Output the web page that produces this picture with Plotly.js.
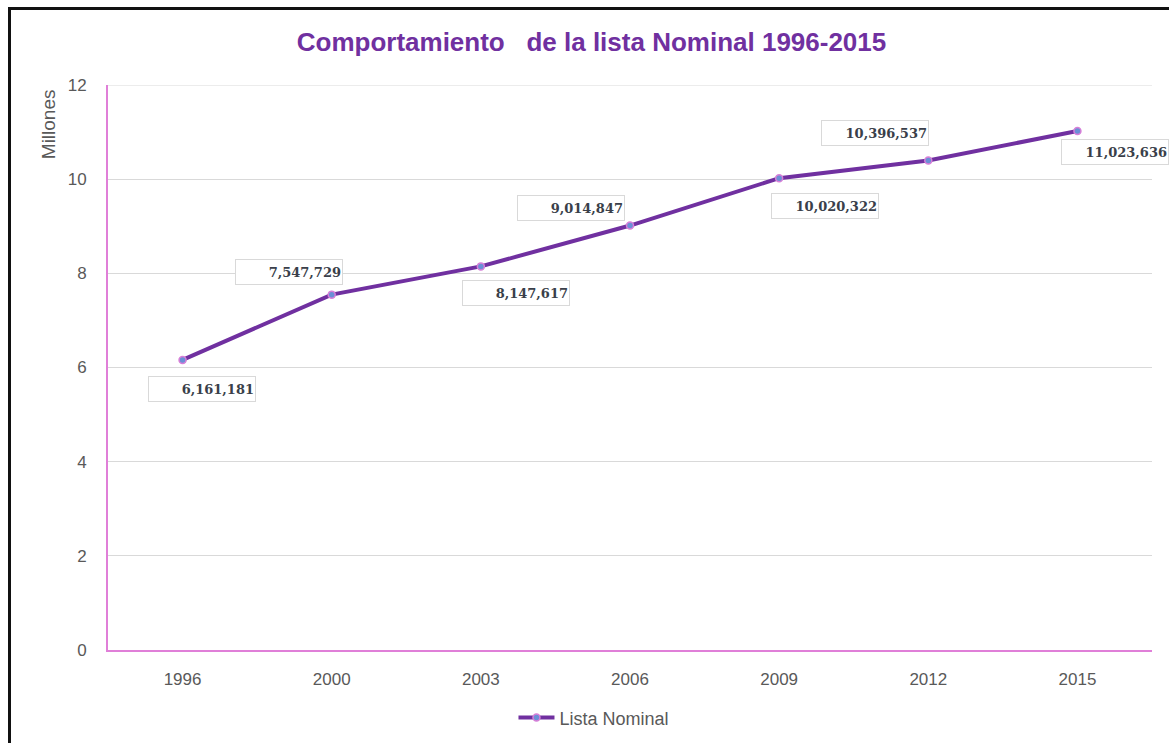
<!DOCTYPE html>
<html>
<head>
<meta charset="utf-8">
<script src="https://cdn.plot.ly/plotly-3.0.1.min.js"></script>
<style>
  html, body { margin: 0; padding: 0; background: #fff; overflow: hidden; }
  #chart { width: 1169px; height: 743px; }
  #frame { position: absolute; left: 8px; top: 7px; width: 1300px; height: 900px;
           border-left: 3px solid #111; border-top: 3px solid #111; pointer-events: none; }
</style>
</head>
<body>
<div id="chart"></div>
<div id="frame"></div>
<script>
const years = ['1996', '2000', '2003', '2006', '2009', '2012', '2015'];
const listaNominal = [6161181, 7547729, 8147617, 9014847, 10020322, 10396537, 11023636];
const yTicks = [0, 2, 4, 6, 8, 10, 12];

// label placement (pixel offsets of each value box from its point)
const labelShiftX = [19, -43, 35, -59, 46, -53, 38];
const labelShiftY = [-29, 23, -27, 18, -28, 28, -21];

const yMillions = listaNominal.map(v => v / 1e6);

const trace = {
  x: years,
  y: yMillions,
  type: 'scatter',
  mode: 'lines+markers',
  name: 'Lista Nominal',
  line: { color: '#7030A0', width: 4 },
  marker: { size: 7, color: '#6B8FD6', line: { color: '#D77FD8', width: 1.5 } },
  hoverinfo: 'skip'
};

const annotations = years.map((yr, i) => ({
  x: i, y: yMillions[i], xref: 'x', yref: 'y',
  text: listaNominal[i].toLocaleString('en-US'),
  showarrow: false,
  xshift: labelShiftX[i], yshift: labelShiftY[i],
  width: 104, height: 22, align: 'right', valign: 'middle',
  bordercolor: '#D9D9D9', borderwidth: 1, borderpad: 1,
  bgcolor: '#ffffff',
  font: { family: 'DejaVu Serif, serif', size: 13, color: '#3A3F4A', weight: 'bold' }
}));

annotations.push({
  xref: 'paper', yref: 'paper', x: -0.057, y: 0.997,
  xanchor: 'center', yanchor: 'top', textangle: -90,
  text: 'Millones', showarrow: false,
  font: { family: 'Liberation Sans, Arial, sans-serif', size: 19, color: '#595959' }
});

const layout = {
  width: 1169, height: 743,
  margin: { l: 108, r: 17, t: 85, b: 93, autoexpand: false },
  paper_bgcolor: '#ffffff', plot_bgcolor: '#ffffff',
  title: {
    text: 'Comportamiento\u00a0\u00a0\u00a0de la lista Nominal 1996-2015',
    font: { family: 'Liberation Sans, Arial, sans-serif', size: 26, color: '#7030A0', weight: 'bold' },
    x: 0.506, xanchor: 'center', y: 0.943, yanchor: 'middle'
  },
  xaxis: {
    type: 'category',
    range: [-0.5, 6.5],
    showgrid: false, zeroline: false,
    showline: true, linecolor: '#E07FD8', linewidth: 2,
    ticks: '', ticklabelstandoff: 13,
    tickfont: { family: 'Liberation Sans, Arial, sans-serif', size: 17, color: '#595959' }
  },
  yaxis: {
    range: [0, 12],
    tickvals: yTicks,
    ticktext: yTicks.map(String),
    showgrid: true, gridcolor: '#D9D9D9', gridwidth: 1,
    zeroline: false,
    showline: true, linecolor: '#E07FD8', linewidth: 2,
    ticks: '', ticklabelstandoff: 16,
    tickfont: { family: 'Liberation Sans, Arial, sans-serif', size: 17, color: '#595959' }
  },
  shapes: [{
    type: 'line', xref: 'paper', yref: 'y', x0: 0, x1: 1,
    y0: yTicks[yTicks.length - 1], y1: yTicks[yTicks.length - 1],
    line: { color: '#D9D9D9', width: 1 }, layer: 'below'
  }],
  showlegend: true,
  legend: {
    orientation: 'h', x: 0.4655, xanchor: 'center', y: -0.12, yanchor: 'middle',
    font: { family: 'Liberation Sans, Arial, sans-serif', size: 18, color: '#595959' },
    itemwidth: 36
  },
  annotations: annotations
};

Plotly.newPlot('chart', [trace], layout, { displayModeBar: false, staticPlot: true });
</script>
</body>
</html>
